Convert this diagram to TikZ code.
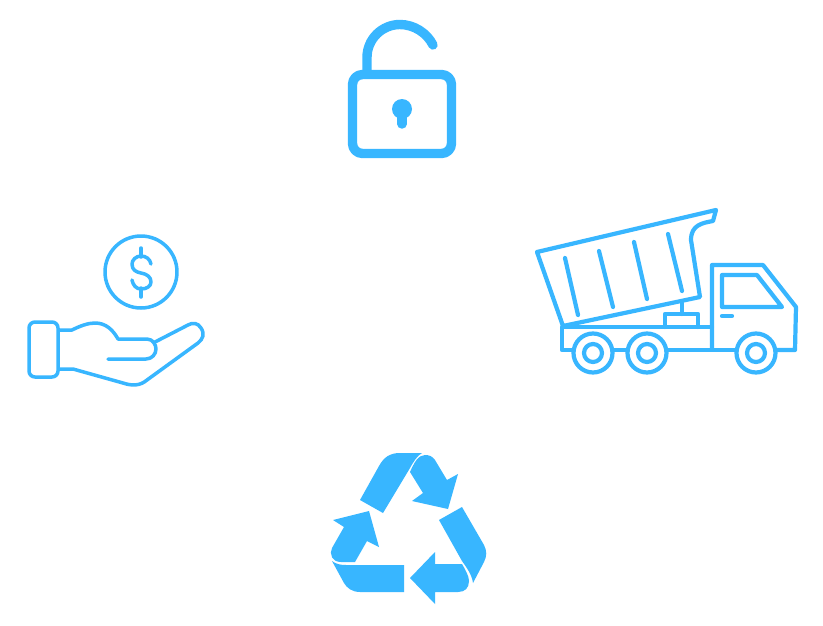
\documentclass[tikz,border=0pt]{standalone}
\definecolor{iconblue}{HTML}{38B6FF}
\tikzset{
  solidpart/.style={fill=iconblue,draw=none},
  lockline/.style={draw=iconblue,line width=9.4pt,line cap=round,line join=round},
  truckline/.style={draw=iconblue,line width=4.2pt,line cap=round,line join=round},
  handline/.style={draw=iconblue,line width=3.5pt,line cap=round,line join=round}
}
\begin{document}
\begin{tikzpicture}[x=1pt,y=-1pt]
\useasboundingbox (0,0) rectangle (823,625);
\fill[white] (0,0) rectangle (823,625);
% lock
\draw[lockline,rounded corners=10pt] (352.5,74.5) rectangle (451.5,153.5);
\draw[lockline] (367,72) -- (367,57.5) .. controls (367,39) and (382,24.5) .. (400,24.5) .. controls (414,24.5) and (427,33) .. (433,45);
\fill[iconblue] (402,109) circle (10pt);
\draw[lockline] (402,113) -- (402,124);
% truck
\draw[truckline] (537,252) -- (716,210) -- (713,221) .. controls (702,223) and (691,225) .. (691,240) -- (700,297) -- (563,326) -- cycle;
\draw[truckline] (565,258) -- (578,315);
\draw[truckline] (599,251) -- (613,307);
\draw[truckline] (634,242) -- (647,299);
\draw[truckline] (668,234) -- (682,291);
\draw[truckline] (563,327) -- (712,327);
\draw[truckline] (562,327) -- (562,350) -- (775,350);
\draw[truckline] (775,350) -- (795,350) -- (796,307) -- (763,265) -- (712,265) -- (712,348);
\draw[truckline] (722,275) -- (757,275) -- (782,307) -- (722,307) -- cycle;
\draw[truckline] (722,316) -- (732,316);
\draw[truckline] (665,327) -- (665,314) -- (698,314) -- (698,327);
\draw[truckline] (682,303) -- (682,314);
\foreach \wx in {593,647,756}{
  \draw[truckline,fill=white] (\wx,353) circle (19.5pt);
  \draw[truckline] (\wx,353) circle (9pt);
}
% hand and coin
\draw[handline] (141,272) circle (36pt);
\draw[handline] (141,248) -- (141,257);
\draw[handline] (141,288) -- (141,297);
\draw[handline] (151,264) .. controls (150,259) and (146,256) .. (141,256) .. controls (136,256) and (132,260) .. (132,264) .. controls (132,270) and (136,272) .. (141,273) .. controls (147,274) and (151,277) .. (151,282) .. controls (151,286) and (147,289) .. (141,289) .. controls (136,289) and (133,285) .. (132,280);
\draw[handline,rounded corners=6pt] (29,322) rectangle (58,377);
\draw[handline] (59,330) -- (72,330) .. controls (80,326) and (88,323) .. (95,323) .. controls (106,323) and (113,330) .. (118,339) -- (147,339) .. controls (153,339) and (156,345) .. (156,349) .. controls (156,354) and (152,359) .. (146,359) -- (108,359);
\draw[handline] (59,369) -- (73,369) -- (123,383) .. controls (132,386) and (140,386) .. (147,380) -- (198,343) .. controls (203,339) and (205,334) .. (201,328) .. controls (198,323) and (193,322) .. (188,325) -- (155,342);
% recycling symbol
\fill[solidpart] (360,500) -- (379,466) .. controls (384,457) and (390,453) .. (400,453) -- (422,453) .. controls (417,456) and (414,461) .. (410,468) -- (383,513) -- cycle;
\fill[solidpart] (410,472) .. controls (414,463) and (418,455) .. (425,455) .. controls (429,455) and (432,456) .. (435,460) -- (447,480) -- (458,474) -- (448,509) -- (412,501) -- (423,493) -- cycle;
\fill[solidpart] (439,520) -- (462,507) -- (484,545) .. controls (487,551) and (487,556) .. (484,562) -- (473,583) .. controls (472,575) and (467,568) .. (462,561) -- cycle;
\fill[solidpart] (462,564) -- (435,564) -- (435,552) -- (410,578) -- (435,604) -- (435,592) -- (458,592) .. controls (465,592) and (469,588) .. (469,581) .. controls (469,576) and (465,569) .. (462,564) -- cycle;
\fill[solidpart] (332,561) .. controls (336,564) and (340,565) .. (346,565) -- (404,565) -- (404,592) -- (360,592) .. controls (352,592) and (347,588) .. (344,583) -- cycle;
\fill[solidpart] (355,562) -- (367,541) -- (379,547) -- (369,511) -- (333,520) -- (344,527) -- (332,548) .. controls (329,554) and (332,562) .. (341,562) -- cycle;
\end{tikzpicture}
\end{document}
